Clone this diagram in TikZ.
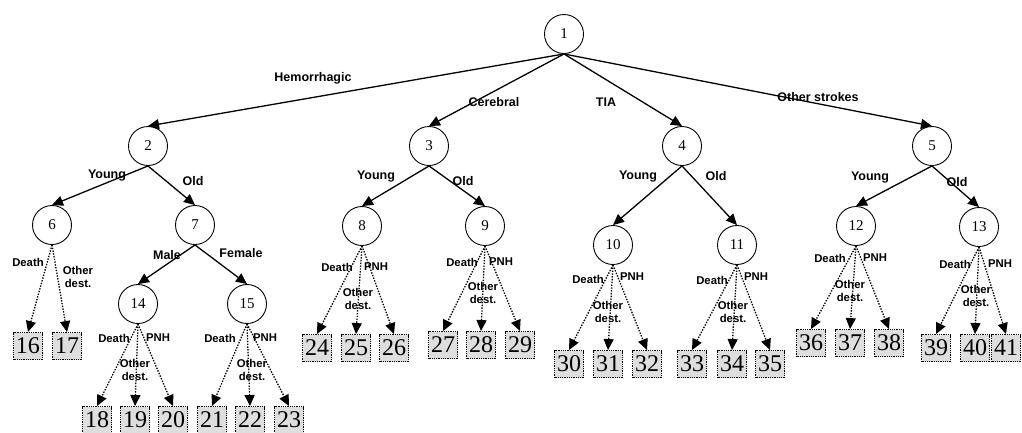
\documentclass[tikz,border=0pt]{standalone}
\usepackage{fontspec}
\setmainfont{Liberation Serif}
\setsansfont{Liberation Sans}
\usetikzlibrary{arrows.meta}
\tikzset{
  st/.style={circle,draw,line width=0.9pt,minimum size=39pt,inner sep=0pt,font=\fontsize{15}{15}\selectfont},
  leaf/.style={rectangle,draw,line width=0.9pt,dash pattern=on 1pt off 0.8pt,fill=black!13,minimum width=29pt,minimum height=27pt,inner sep=0pt,font=\fontsize{24}{24}\selectfont},
  br/.style={line width=1.3pt,-{Triangle[length=11pt,width=10pt]}},
  dl/.style={line width=1.3pt,dash pattern=on 1.4pt off 1.4pt,-{Triangle[length=11pt,width=10pt]}},
  lbl/.style={font=\sffamily\bfseries\fontsize{12.5}{13}\selectfont,inner sep=0pt},
  sl/.style={font=\sffamily\bfseries\fontsize{11.3}{13}\selectfont,inner sep=0pt,align=center},
}
\begin{document}
\begin{tikzpicture}[x=1pt,y=-1pt]
\useasboundingbox (0,0) rectangle (1022,432);
% states
\node[st] (n1) at (564,34) {1};
\node[st] (n2) at (148,146) {2};
\node[st] (n3) at (429,146) {3};
\node[st] (n4) at (682,146) {4};
\node[st] (n5) at (932,146) {5};
\node[st] (n6) at (52,225) {6};
\node[st] (n7) at (195,225) {7};
\node[st] (n8) at (362,226) {8};
\node[st] (n9) at (485,226) {9};
\node[st] (n10) at (613,245) {10};
\node[st] (n11) at (737,245) {11};
\node[st] (n12) at (856,226) {12};
\node[st] (n13) at (979,227) {13};
\node[st] (n14) at (138,304) {14};
\node[st] (n15) at (247,304) {15};
% leaves
\node[leaf] (b16) at (28,346) {16};
\node[leaf] (b17) at (67,346) {17};
\node[leaf] (b18) at (97,420) {18};
\node[leaf] (b19) at (135,420) {19};
\node[leaf] (b20) at (173,420) {20};
\node[leaf] (b21) at (212,420) {21};
\node[leaf] (b22) at (250,420) {22};
\node[leaf] (b23) at (289,420) {23};
\node[leaf] (b24) at (317,348) {24};
\node[leaf] (b25) at (356,348) {25};
\node[leaf] (b26) at (394,348) {26};
\node[leaf] (b27) at (443,345) {27};
\node[leaf] (b28) at (481,345) {28};
\node[leaf] (b29) at (520,345) {29};
\node[leaf] (b30) at (569,364) {30};
\node[leaf] (b31) at (608,364) {31};
\node[leaf] (b32) at (647,364) {32};
\node[leaf] (b33) at (692,364) {33};
\node[leaf] (b34) at (732,364) {34};
\node[leaf] (b35) at (770,364) {35};
\node[leaf] (b36) at (811,343) {36};
\node[leaf] (b37) at (850,343) {37};
\node[leaf] (b38) at (889,343) {38};
\node[leaf] (b39) at (936,348) {39};
\node[leaf] (b40) at (975,348) {40};
\node[leaf] (b41) at (1006,348) {41};
% branches
\foreach \a/\b in {n1/n2,n1/n3,n1/n4,n1/n5,n2/n6,n2/n7,n7/n14,n7/n15,n3/n8,n3/n9,n4/n10,n4/n11,n5/n12,n5/n13}
  \draw[br] (\a.south) -- (\b.north);
\foreach \a/\b in {n6/b16,n6/b17,n14/b18,n14/b19,n14/b20,n15/b21,n15/b22,n15/b23,n8/b24,n8/b25,n8/b26,n9/b27,n9/b28,n9/b29,n10/b30,n10/b31,n10/b32,n11/b33,n11/b34,n11/b35,n12/b36,n12/b37,n12/b38,n13/b39,n13/b40,n13/b41}
  \draw[dl] (\a.south) -- (\b.north);
% branch labels
\node[lbl] (t1) at (313,78) {Hemorrhagic};
\node[lbl] (t2) at (494,102) {Cerebral};
\node[lbl] (t3) at (606,102) {TIA};
\node[lbl] (t4) at (818,97) {Other strokes};
\node[lbl] (t5) at (107,176) {Young};
\node[lbl] (t6) at (193,181) {Old};
\node[lbl] (t7) at (167,255) {Male};
\node[lbl] (t8) at (241,253) {Female};
\node[lbl] (t9) at (376,177) {Young};
\node[lbl] (t10) at (463,181) {Old};
\node[lbl] (t11) at (638,177) {Young};
\node[lbl] (t12) at (716,176) {Old};
\node[lbl] (t13) at (870,178) {Young};
\node[lbl] (t14) at (957,182) {Old};
% outcome labels
\node[sl] (s1) at (28,262) {Death};
\node[sl] (s2) at (78,277) {Other\\dest.};
\node[sl] (s3) at (114,338) {Death};
\node[sl] (s4) at (158,338) {PNH};
\node[sl] (s5) at (135,370) {Other\\dest.};
\node[sl] (s6) at (220,338) {Death};
\node[sl] (s7) at (265,338) {PNH};
\node[sl] (s8) at (252,370) {Other\\dest.};
\node[sl] (s9) at (337,267) {Death};
\node[sl] (s10) at (376,267) {PNH};
\node[sl] (s11) at (358,299) {Other\\dest.};
\node[sl] (s12) at (462,262) {Death};
\node[sl] (s13) at (501,262) {PNH};
\node[sl] (s14) at (483,293) {Other\\dest.};
\node[sl] (s15) at (588,279) {Death};
\node[sl] (s16) at (632,277) {PNH};
\node[sl] (s17) at (608,312) {Other\\dest.};
\node[sl] (s18) at (712,280) {Death};
\node[sl] (s19) at (756,277) {PNH};
\node[sl] (s20) at (733,312) {Other\\dest.};
\node[sl] (s21) at (830,258) {Death};
\node[sl] (s22) at (875,258) {PNH};
\node[sl] (s23) at (850,291) {Other\\dest.};
\node[sl] (s24) at (955,264) {Death};
\node[sl] (s25) at (1000,264) {PNH};
\node[sl] (s26) at (976,296) {Other\\dest.};
\end{tikzpicture}
\end{document}
